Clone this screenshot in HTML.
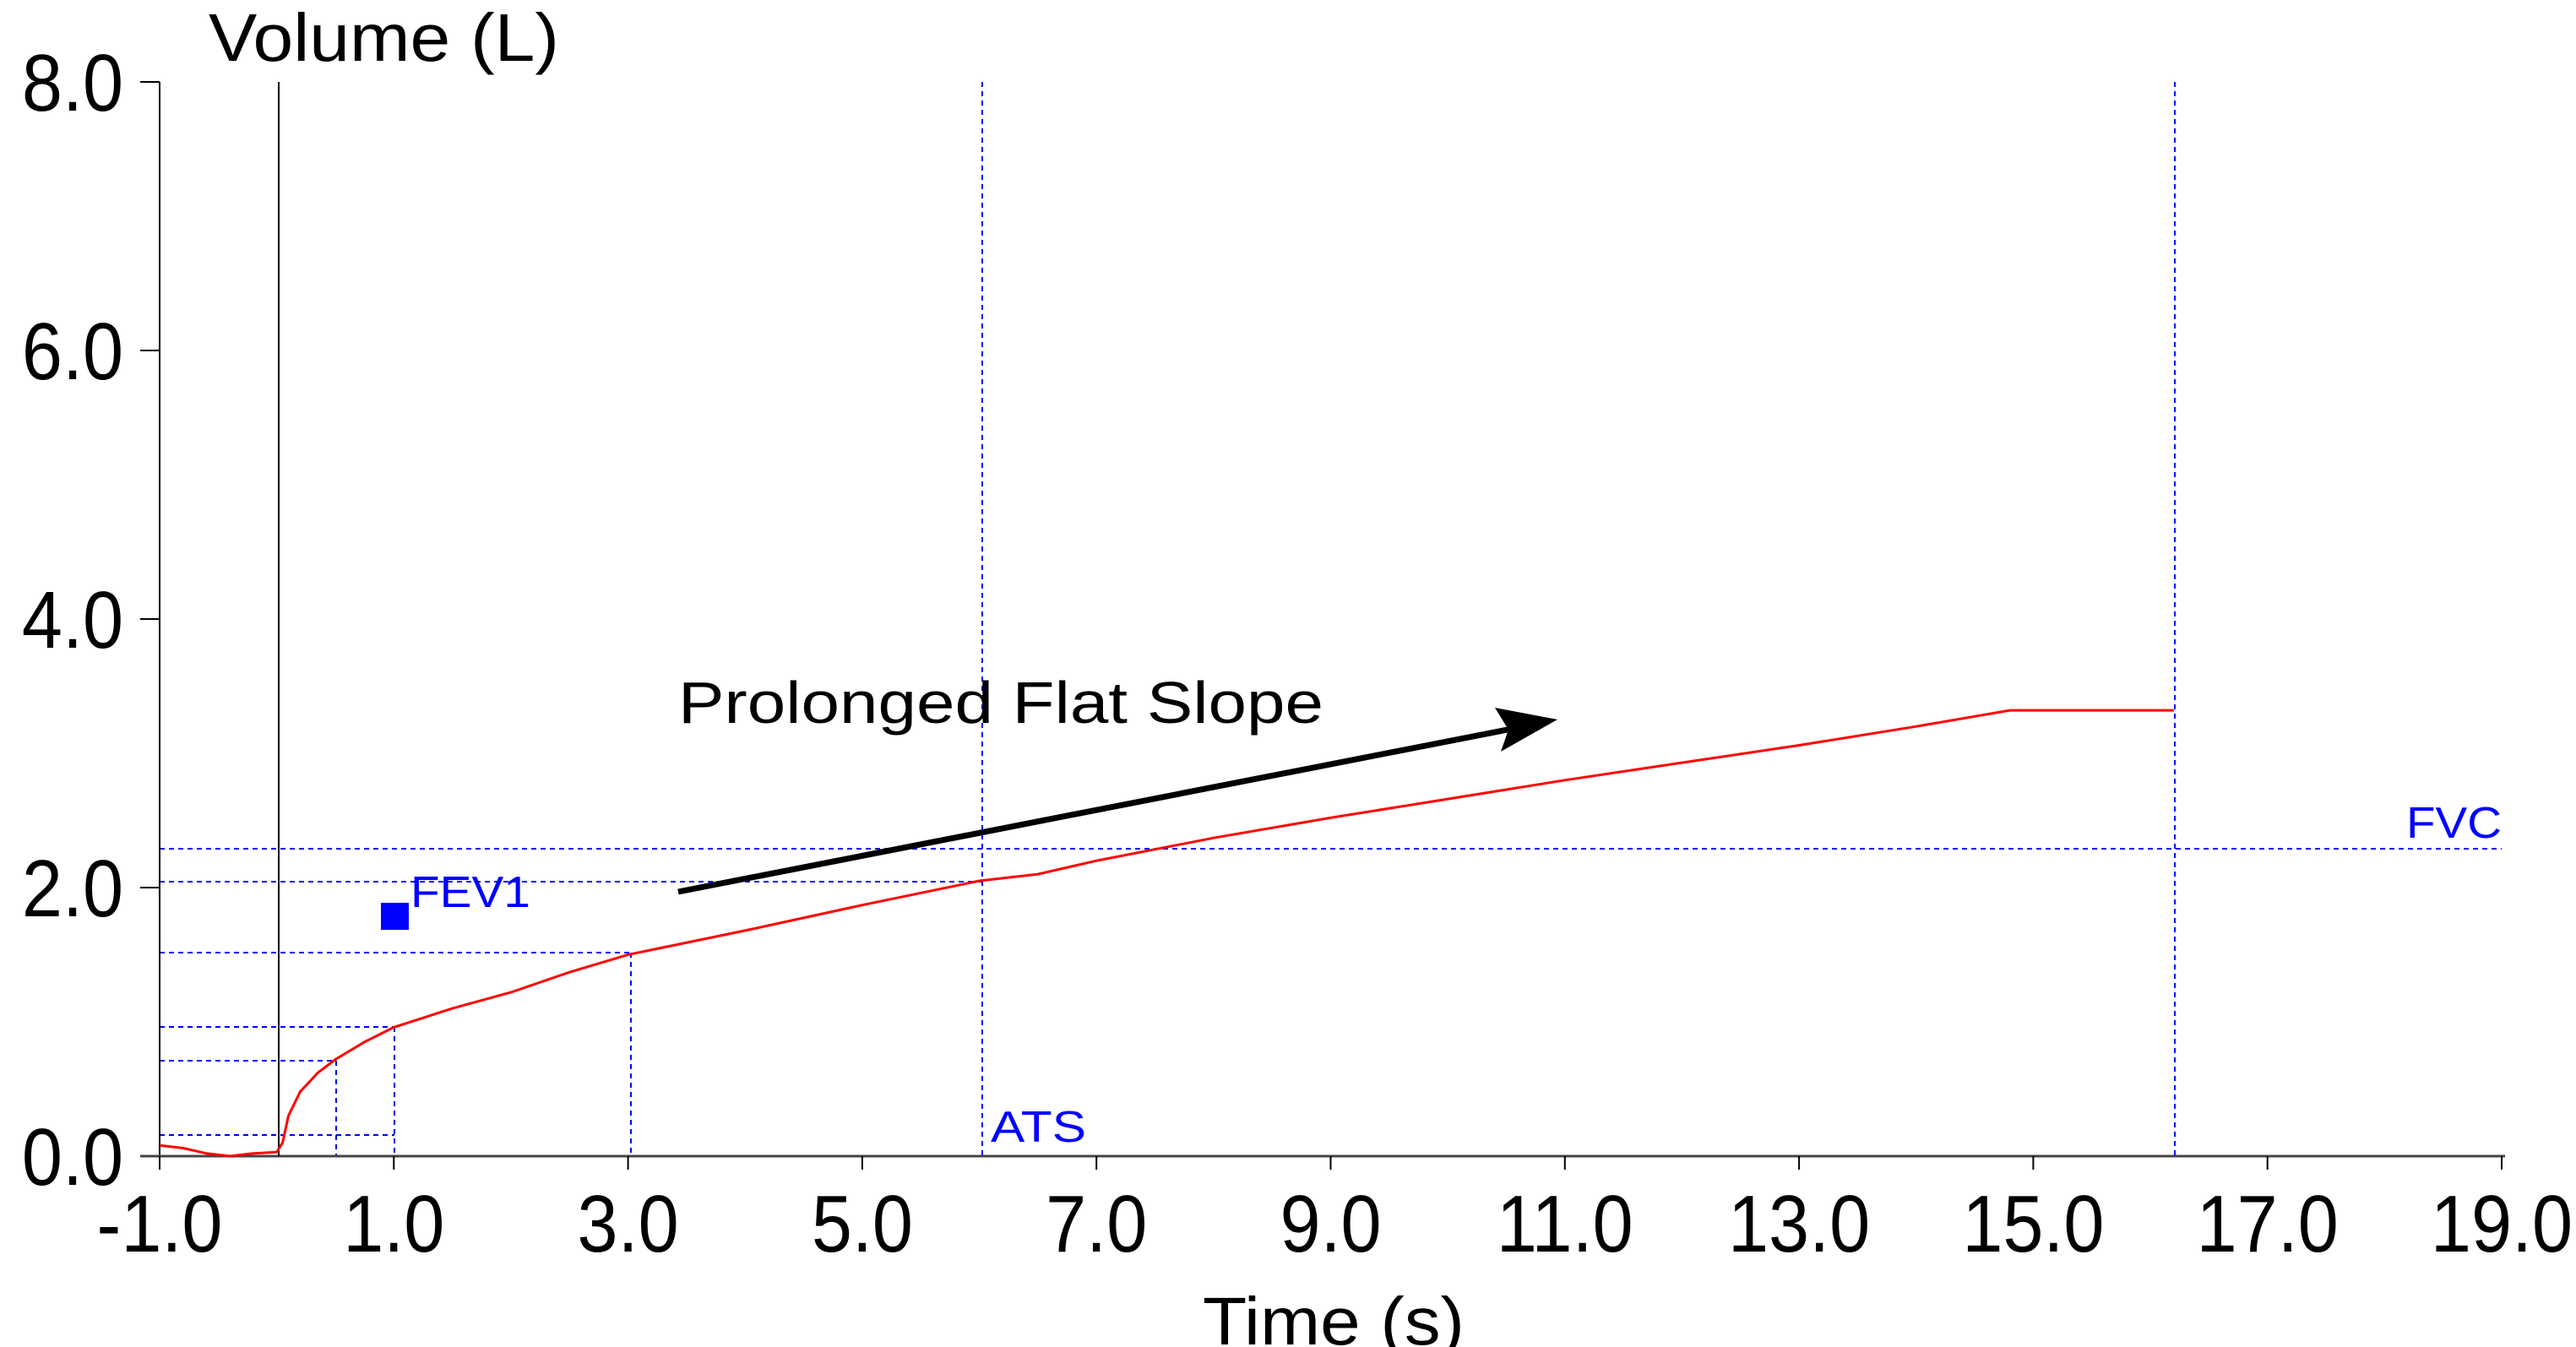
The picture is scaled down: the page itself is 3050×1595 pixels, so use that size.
<!DOCTYPE html>
<html><head><meta charset="utf-8"><style>
html,body{margin:0;padding:0;background:#fff;}
svg{display:block;}
text{font-family:"Liberation Sans",Arial,sans-serif;}
</style></head><body>
<svg id="s" width="3050" height="1595" viewBox="0 0 3050 1595" xmlns="http://www.w3.org/2000/svg">
<rect width="3050" height="1595" fill="#fff"/>
<g stroke="#0000ff" stroke-width="2" stroke-dasharray="6,5" fill="none">
<line x1="189" y1="1005" x2="2962" y2="1005"/>
<line x1="189" y1="1044" x2="1163" y2="1044"/>
<line x1="189" y1="1128" x2="747" y2="1128"/>
<line x1="189" y1="1216" x2="467" y2="1216"/>
<line x1="189" y1="1256" x2="398" y2="1256"/>
<line x1="189" y1="1344" x2="467" y2="1344"/>
<line x1="398" y1="1256" x2="398" y2="1369"/>
<line x1="467" y1="1216" x2="467" y2="1369"/>
<line x1="747" y1="1128" x2="747" y2="1369"/>
<line x1="1163" y1="97" x2="1163" y2="1369"/>
<line x1="2575" y1="97" x2="2575" y2="1369"/>
</g>
<g stroke="#000" stroke-width="2" fill="none">
<line x1="189" y1="97" x2="189" y2="1369"/>
<line x1="166" y1="97" x2="189" y2="97"/>
<line x1="166" y1="415" x2="189" y2="415"/>
<line x1="166" y1="733" x2="189" y2="733"/>
<line x1="166" y1="1051" x2="189" y2="1051"/>
<line x1="166" y1="1369" x2="2966" y2="1369" stroke="#444" stroke-width="3"/>
<line x1="330" y1="97" x2="330" y2="1369"/>
</g>
<g id="xt" stroke="#000" stroke-width="2"></g>
<polyline id="curve" fill="none" stroke="#ff0000" stroke-width="3" points=""/>
<rect x="451" y="1069" width="33" height="32" fill="#0000ff"/>
<line x1="803" y1="1056" x2="1790" y2="863" stroke="#000" stroke-width="7"/>
<polygon points="1844,852 1770,838 1786,864 1777,890" fill="#000"/>
<g font-size="96" fill="#000">
<text x="146" y="131" text-anchor="end" transform="translate(146 0) scale(0.9 1) translate(-146 0)">8.0</text>
<text x="146" y="449" text-anchor="end" transform="translate(146 0) scale(0.9 1) translate(-146 0)">6.0</text>
<text x="146" y="767" text-anchor="end" transform="translate(146 0) scale(0.9 1) translate(-146 0)">4.0</text>
<text x="146" y="1085" text-anchor="end" transform="translate(146 0) scale(0.9 1) translate(-146 0)">2.0</text>
<text x="146" y="1403" text-anchor="end" transform="translate(146 0) scale(0.9 1) translate(-146 0)">0.0</text>
</g>
<g id="xl" font-size="96" fill="#000"></g>
<text x="247" y="72" font-size="80" textLength="415" lengthAdjust="spacingAndGlyphs">Volume (L)</text>
<text x="1424" y="1592" font-size="80" textLength="310" lengthAdjust="spacingAndGlyphs">Time (s)</text>
<text x="803" y="856" font-size="70" textLength="764" lengthAdjust="spacingAndGlyphs">Prolonged Flat Slope</text>
<g fill="#0000ff" font-size="52">
<text x="486" y="1074" textLength="142" lengthAdjust="spacingAndGlyphs">FEV1</text>
<text x="2849" y="992" textLength="113" lengthAdjust="spacingAndGlyphs">FVC</text>
<text x="1173" y="1352" textLength="113" lengthAdjust="spacingAndGlyphs">ATS</text>
</g>
</svg>
<script>
var X=function(t){return 189+138.65*(t+1)},Y=function(v){return 1369-159*v};
var d=[[-1,0.08],[-0.8,0.06],[-0.6,0.02],[-0.4,0.0],[-0.2,0.02],[0,0.03],[0.05,0.1],[0.1,0.3],[0.2,0.48],[0.35,0.62],[0.5,0.72],[0.75,0.85],[1,0.96],[1.5,1.1],[2,1.22],[2.5,1.37],[3,1.5],[4,1.68],[5,1.87],[6,2.05],[6.5,2.1],[7,2.2],[8,2.37],[9,2.52],[10,2.66],[11,2.8],[12,2.93],[13,3.06],[14,3.2],[14.8,3.32],[16.2,3.32]];
document.getElementById('curve').setAttribute('points',d.map(function(p){return X(p[0]).toFixed(1)+','+Y(p[1]).toFixed(1)}).join(' '));
var xt=document.getElementById('xt'),xl=document.getElementById('xl'),ns='http://www.w3.org/2000/svg';
for(var t=-1;t<=19;t+=2){var x=X(t);var l=document.createElementNS(ns,'line');l.setAttribute('x1',x);l.setAttribute('x2',x);l.setAttribute('y1',1369);l.setAttribute('y2',1385);xt.appendChild(l);
var tx=document.createElementNS(ns,'text');tx.setAttribute('x',x);tx.setAttribute('y',1482);tx.setAttribute('text-anchor','middle');tx.setAttribute('transform','translate('+x+' 0) scale(0.9 1) translate('+(-x)+' 0)');tx.textContent=t.toFixed(1);xl.appendChild(tx);}
</script>
</body></html>
